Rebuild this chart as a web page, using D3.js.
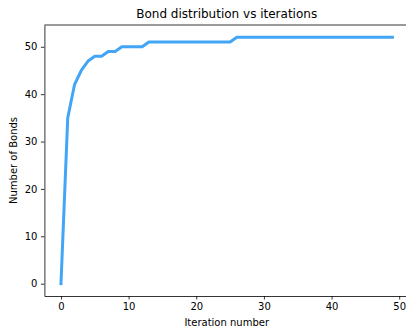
<!DOCTYPE html>
<html>
<head>
<meta charset="utf-8">
<script src="https://cdn.jsdelivr.net/npm/d3@7"></script>
<style>
  body { margin: 0; background: #fff; }
  text { font-family: "DejaVu Sans", sans-serif; }
</style>
</head>
<body>
<div id="chart"></div>
<script>
// data
var iterations = d3.range(0, 50);
var bonds = [0, 35, 42, 45, 47, 48, 48, 49, 49, 50,
    50, 50, 50, 51, 51, 51, 51, 51, 51, 51,
    51, 51, 51, 51, 51, 51, 52, 52, 52, 52,
    52, 52, 52, 52, 52, 52, 52, 52, 52, 52,
    52, 52, 52, 52, 52, 52, 52, 52, 52, 52];
var xTicks = [0, 10, 20, 30, 40, 50];
var yTicks = [0, 10, 20, 30, 40, 50];

var svgWidth = 406;
var svgHeight = 327;

var margin = { top: 25, right: -3, bottom: 31, left: 44.4 };
var width = svgWidth - margin.left - margin.right;
var height = svgHeight - margin.top - margin.bottom;

var svg = d3.select("#chart")
    .append("svg")
    .attr("width", svgWidth)
    .attr("height", svgHeight);

var chartGroup = svg.append("g")
    .attr("transform", `translate(${margin.left}, ${margin.top})`);

// matplotlib style 5% padding around the data
var xPad = (d3.max(iterations) - d3.min(iterations)) * 0.05;
var yPad = (d3.max(bonds) - d3.min(bonds)) * 0.05;

var xScale = d3.scaleLinear()
    .domain([d3.min(iterations) - xPad, d3.max(iterations) + xPad])
    .range([0, width]);

var yScale = d3.scaleLinear()
    .domain([d3.min(bonds) - yPad, d3.max(bonds) + yPad])
    .range([height, 0]);

// axes
var xAxis = d3.axisBottom(xScale).tickValues(xTicks).tickSize(3.5).tickPadding(3.5).tickSizeOuter(0);
var yAxis = d3.axisLeft(yScale).tickValues(yTicks).tickSize(3.5).tickPadding(3.5).tickSizeOuter(0);

var gx = chartGroup.append("g")
    .attr("transform", `translate(0, ${height})`)
    .call(xAxis);

var gy = chartGroup.append("g")
    .call(yAxis);

[gx, gy].forEach(function(g) {
    g.selectAll("text").attr("font-size", "10px").attr("fill", "#000")
        .style("font-family", "DejaVu Sans, sans-serif");
    g.selectAll("line").attr("stroke", "#000").attr("stroke-width", 0.8);
    g.select(".domain").attr("stroke", "#000").attr("stroke-width", 0.8);
});

// top and right spines
chartGroup.append("line")
    .attr("x1", 0).attr("x2", width)
    .attr("y1", 0).attr("y2", 0)
    .attr("stroke", "#000").attr("stroke-width", 0.8);
chartGroup.append("line")
    .attr("x1", width).attr("x2", width)
    .attr("y1", 0).attr("y2", height)
    .attr("stroke", "#000").attr("stroke-width", 0.8);

// the line
var line = d3.line()
    .x(function(d, i) { return xScale(iterations[i]); })
    .y(function(d) { return yScale(d); });

chartGroup.append("path")
    .datum(bonds)
    .attr("d", line)
    .attr("fill", "none")
    .attr("stroke", "#42a5f5")
    .attr("stroke-width", 3)
    .attr("stroke-linecap", "square")
    .attr("stroke-linejoin", "round");

// labels
svg.append("text")
    .attr("x", margin.left + width / 2)
    .attr("y", 18)
    .attr("text-anchor", "middle")
    .attr("font-size", "12px")
    .text("Bond distribution vs iterations");

svg.append("text")
    .attr("x", margin.left + width / 2)
    .attr("y", 326)
    .attr("text-anchor", "middle")
    .attr("font-size", "10px")
    .text("Iteration number");

svg.append("text")
    .attr("transform", `translate(17, ${margin.top + height / 2}) rotate(-90)`)
    .attr("text-anchor", "middle")
    .attr("font-size", "10px")
    .text("Number of Bonds");
</script>
</body>
</html>
